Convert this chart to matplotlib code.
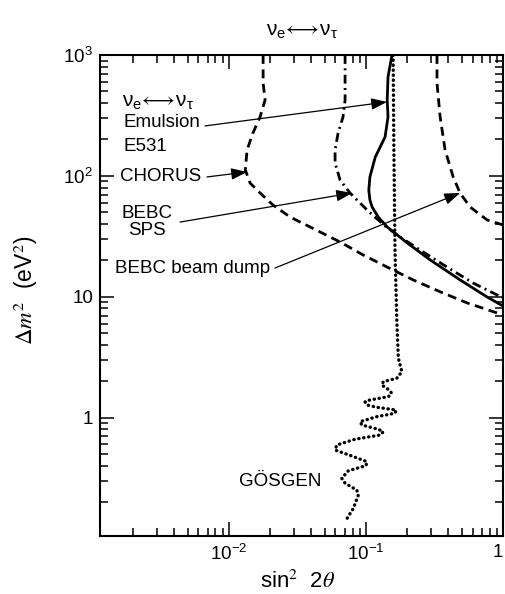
import matplotlib
matplotlib.use("Agg")
import matplotlib.pyplot as plt
from matplotlib.ticker import FixedLocator, LogLocator, NullFormatter

# exclusion contours, nu_e <-> nu_tau  (x = sin^2 2theta, y = dm^2 in eV^2)
chorus_x = [0.0178, 0.0178, 0.0184, 0.0169, 0.0150, 0.0136, 0.0132, 0.0143, 0.0169, 0.0210,
            0.0280, 0.0405, 0.0648, 0.0953, 0.143, 0.221, 0.348, 0.547, 0.906, 1.0]
chorus_y = [1000, 586, 424, 307, 226, 164, 112, 87.3, 72.2, 57.4,
            45.7, 37.1, 28.4, 22.2, 17.6, 13.8, 11.0, 8.9, 7.35, 7.07]

sps_x = [0.0705, 0.0705, 0.0681, 0.0627, 0.0596, 0.0596, 0.0648, 0.0766, 0.102, 0.138,
         0.178, 0.248, 0.391, 0.605, 0.906, 1.0]
sps_y = [1000, 424, 307, 226, 164, 128, 92.5, 72.2, 52.2, 38.5,
         31.2, 24.4, 17.6, 13.0, 10.35, 9.77]

e531_x = [0.155, 0.145, 0.143, 0.145, 0.138, 0.117, 0.107, 0.105, 0.107, 0.111,
          0.123, 0.143, 0.200, 0.294, 0.486, 0.766, 1.0]
e531_y = [1000, 658, 424, 307, 210, 143, 98, 76.4, 63.2, 55.3,
          45.7, 37.8, 27.9, 20.2, 13.8, 9.96, 8.39]

dump_x = [0.330, 0.330, 0.348, 0.378, 0.433, 0.486, 0.575, 0.766, 1.0]
dump_y = [1000, 586, 307, 164, 98, 72.2, 55.3, 43.2, 39.3]

gosgen_x = [0.158, 0.160, 0.163, 0.168, 0.1725, 0.183, 0.168, 0.134, 0.1305, 0.150,
            0.154, 0.146, 0.107, 0.0986, 0.1015, 0.120, 0.166, 0.163, 0.120, 0.0907,
            0.0933, 0.123, 0.134, 0.127, 0.0834, 0.0613, 0.0596, 0.0788, 0.1015, 0.1003,
            0.0745, 0.0667, 0.0705, 0.0858, 0.0881, 0.0810, 0.0717]
gosgen_y = [1000, 164, 24.4, 6.43, 3.10, 2.40, 2.12, 1.985, 1.865, 1.673,
            1.592, 1.492, 1.401, 1.356, 1.274, 1.219, 1.158, 1.087, 1.019, 0.927,
            0.870, 0.802, 0.766, 0.719, 0.663, 0.594, 0.540, 0.482, 0.433, 0.401,
            0.364, 0.315, 0.287, 0.252, 0.229, 0.178, 0.1425]

# (label start, arrow tip) in data coords
arrows = [((0.00671, 259), (0.1426, 409)),    # Emulsion E531
          ((0.00694, 98), (0.01358, 107.7)),  # CHORUS
          ((0.00441, 41.5), (0.0793, 72.2)),  # BEBC SPS
          ((0.02175, 17.3), (0.486, 72.2))]   # BEBC beam dump

x_ticks = [1e-2, 1e-1, 1]
x_ticklabels = ["$10^{-2}$", "$10^{-1}$", "1"]
y_ticks = [1, 10, 100, 1000]
y_ticklabels = ["1", "10", "$10^2$", "$10^3$"]

plt.rcParams["font.family"] = ["Liberation Sans", "DejaVu Sans"]
plt.rcParams["mathtext.fontset"] = "custom"
plt.rcParams["mathtext.rm"] = "Liberation Sans"
plt.rcParams["mathtext.it"] = "Liberation Sans:italic"
plt.rcParams["mathtext.bf"] = "Liberation Sans:bold"

fs = 13.5
osc = r"$\mathrm{\nu_e}\!\longleftrightarrow\!\mathrm{\nu_\tau}$"

fig = plt.figure(figsize=(5.05, 5.94), dpi=100)
ax = fig.add_axes([100 / 505, 1 - 536 / 594, 403 / 505, 481 / 594])
ax.set_xscale("log")
ax.set_yscale("log")

ax.plot(chorus_x, chorus_y, color="black", lw=2.0, ls=(0, (3.2, 2.0)))
ax.plot(sps_x, sps_y, color="black", lw=2.0, ls=(0, (3.2, 1.6, 0.7, 1.6)))
ax.plot(e531_x, e531_y, color="black", lw=2.0, ls="-")
ax.plot(dump_x, dump_y, color="black", lw=2.0, ls=(0, (3.2, 2.0)))
ax.plot(gosgen_x, gosgen_y, color="black", lw=2.4, ls=(0, (0.1, 1.4)),
        dash_capstyle="round")

for start, tip in arrows:
    ax.annotate("", xy=tip, xytext=start,
                arrowprops=dict(arrowstyle="-|>,head_length=0.6,head_width=0.22",
                                color="black", lw=0.9, mutation_scale=16,
                                shrinkA=0, shrinkB=0))

ax.text(0.001665, 408, osc, fontsize=15, va="center", ha="left")
ax.text(0.001694, 274, "Emulsion", fontsize=fs, va="center", ha="left")
ax.text(0.001694, 176.7, "E531", fontsize=fs, va="center", ha="left")
ax.text(0.00161, 98, "CHORUS", fontsize=fs, va="center", ha="left")
ax.text(0.002534, 41.5, "BEBC\nSPS", fontsize=fs, va="center", ha="center",
        multialignment="center", linespacing=1.0)
ax.text(0.00148, 17.3, "BEBC beam dump", fontsize=fs, va="center", ha="left")
ax.text(0.02365, 0.294, "GÖSGEN", fontsize=fs, va="center", ha="center")

ax.set_xlim(1.15e-3, 1.0)
ax.set_ylim(0.105, 1000)

ax.xaxis.set_major_locator(FixedLocator(x_ticks))
ax.set_xticklabels(x_ticklabels)
ax.get_xticklabels()[-1].set_horizontalalignment("right")
ax.xaxis.set_minor_locator(LogLocator(base=10, subs=range(2, 10), numticks=20))
ax.xaxis.set_minor_formatter(NullFormatter())
ax.yaxis.set_major_locator(FixedLocator(y_ticks))
ax.set_yticklabels(y_ticklabels)
ax.yaxis.set_minor_locator(LogLocator(base=10, subs=range(2, 10), numticks=20))
ax.yaxis.set_minor_formatter(NullFormatter())

ax.tick_params(which="both", direction="in", top=True, right=True, width=1.1,
               labelsize=fs, colors="black")
ax.tick_params(which="major", length=10)
ax.tick_params(which="minor", length=5.5)
ax.tick_params(axis="x", pad=6)
ax.tick_params(axis="y", pad=5)
for sp in ax.spines.values():
    sp.set_linewidth(1.5)

ax.set_title(osc, fontsize=15, pad=14)
ax.set_xlabel(r"sin$^2$  2$\theta$", fontsize=16, math_fontfamily="stix",
              va="bottom")
ax.xaxis.set_label_coords(0.491, -0.118)
ax.set_ylabel(r"$\Delta m^2$  (eV$^2$)", fontsize=16.5, math_fontfamily="stix")
ax.yaxis.set_label_coords(-0.148, 0.511)

fig.savefig("out.png", dpi=100)
